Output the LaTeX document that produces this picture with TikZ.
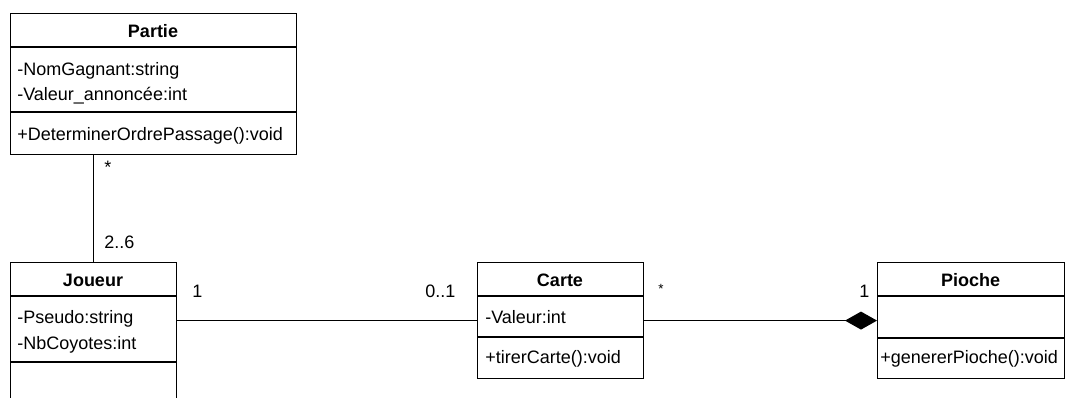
\documentclass[tikz,border=0pt]{standalone}
\usepackage{fontspec}
\setmainfont{Liberation Sans}
\usetikzlibrary{positioning, arrows.meta, calc}
\tikzset{
  classbox/.style={draw, line width=0.9pt, anchor=north west, inner sep=0pt},
  classname/.style={anchor=base, font=\fontsize{13.5pt}{16pt}\selectfont\bfseries, inner sep=0pt},
  member/.style={anchor=base west, font=\fontsize{13.5pt}{16pt}\selectfont, inner sep=0pt},
  mult/.style={anchor=base west, font=\fontsize{13.5pt}{16pt}\selectfont, inner sep=0pt},
  divider/.style={line width=0.9pt},
  assoc/.style={line width=0.9pt},
  compo/.style={line width=0.9pt, -{Diamond[length=24pt, width=13.5pt]}}
}

\begin{document}
\begin{tikzpicture}[x=0.75pt, y=-0.75pt]
    \useasboundingbox (0,0) rectangle (1066,398);
    \clip (0,0) rectangle (1066,398);
    %% class boxes
    \node[classbox, minimum width=214.5pt, minimum height=105.75pt] (partie) at (10,13)  {};
    \node[classbox, minimum width=124.5pt, minimum height=120pt]    (joueur) at (10,262) {};
    \node[classbox, minimum width=124.5pt, minimum height=87pt]     (carte)  at (477,262) {};
    \node[classbox, minimum width=140.25pt, minimum height=87pt]    (pioche) at (877,262) {};
    %% compartments
    \draw[divider] (partie.west |- 0,47)  -- (partie.east |- 0,47);
    \draw[divider] (partie.west |- 0,112) -- (partie.east |- 0,112);
    \draw[divider] (joueur.west |- 0,296) -- (joueur.east |- 0,296);
    \draw[divider] (joueur.west |- 0,362) -- (joueur.east |- 0,362);
    \draw[divider] (carte.west |- 0,296)  -- (carte.east |- 0,296);
    \draw[divider] (carte.west |- 0,337)  -- (carte.east |- 0,337);
    \draw[divider] (pioche.west |- 0,296) -- (pioche.east |- 0,296);
    \draw[divider] (pioche.west |- 0,338) -- (pioche.east |- 0,338);
    %% names, attributes, operations
    \node[classname] (partie-name) at (153,37.5) {Partie};
    \node[member] (partie-nom)    at (17,76)    {-NomGagnant:string};
    \node[member] (partie-valeur) at (17,100.5) {-Valeur\_annoncée:int};
    \node[member] (partie-ordre)  at (17,140.5) {+DeterminerOrdrePassage():void};
    \node[classname] (joueur-name) at (93,286.5) {Joueur};
    \node[member] (joueur-pseudo) at (17,323.5) {-Pseudo:string};
    \node[member] (joueur-coyotes) at (17,350) {-NbCoyotes:int};
    \node[classname] (carte-name) at (560,286.5) {Carte};
    \node[member] (carte-valeur) at (485,324) {-Valeur:int};
    \node[member] (carte-tirer)  at (485,364) {+tirerCarte():void};
    \node[classname] (pioche-name) at (970.5,286.5) {Pioche};
    \node[member] (pioche-generer) at (880,363.5) {+genererPioche():void};
    %% associations
    \draw[assoc] (joueur.north) -- (joueur.north |- partie.south);
    \draw[assoc] (carte.west) -- (carte.west -| joueur.east);
    \draw[compo] (carte.east) -- (pioche.west);
    %% multiplicities
    \node[mult] (m-partie)  at (104,174) {*};
    \node[mult] (m-joueur1) at (104,249) {2..6};
    \node[mult] (m-joueur2) at (192,298) {1};
    \node[mult] (m-carte1)  at (425,298) {0..1};
    \node[mult] (m-carte2)  at (658,294) {\fontsize{10pt}{12pt}\selectfont *};
    \node[mult] (m-pioche)  at (859,298) {1};
  \end{tikzpicture}
\end{document}
